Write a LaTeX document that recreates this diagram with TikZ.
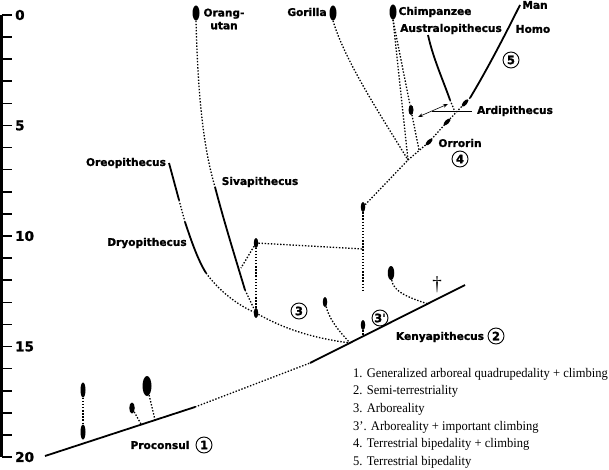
\documentclass[tikz,border=0pt]{standalone}
\usepackage{fontspec}
\setmainfont{Liberation Serif}[FakeStretch=0.95]
\newfontfamily\labfont{DejaVu Sans}[BoldFeatures={FakeBold=1.2}]
\usetikzlibrary{shapes.geometric,arrows.meta}
\tikzset{
  lin/.style={line width=1.8pt},
  dots/.style={line width=1.3pt, dash pattern=on 1.4pt off 1.7pt},
  fos/.style={ellipse, fill=black, inner sep=0pt},
  lab/.style={font=\labfont\bfseries\fontsize{10.6}{12.8}\selectfont, inner sep=0pt},
  num/.style={circle, draw, line width=0.9pt, inner sep=0pt, minimum size=16pt, font=\labfont\bfseries\fontsize{11.5}{12}\selectfont},
  axl/.style={font=\labfont\bfseries\fontsize{13.5}{15}\selectfont, anchor=west, inner sep=0pt},
  legend/.style={font=\fontsize{13.2}{17.6}\selectfont, align=left, anchor=north west, inner sep=0pt},
}
\begin{document}
\begin{tikzpicture}[x=1pt,y=-1pt]
\useasboundingbox (0,0) rectangle (609,470);
% axis
\draw[line width=2.6pt] (1.5,15) -- (1.5,457);
\foreach \i in {0,...,20} {\draw[line width=1.6pt] (1.5,{15+22.1*\i}) -- (12,{15+22.1*\i});}
\foreach \i in {0,5,10,15,20} {\node[axl] (ax\i) at (15,{15+22.1*\i}) {\i};}

% fossils
\node[fos, minimum width=7pt, minimum height=15pt] (orang) at (196,13) {};
\node[fos, minimum width=7pt, minimum height=15pt] (gorilla) at (333,13) {};
\node[fos, minimum width=7pt, minimum height=15pt] (chimp) at (393,12) {};
\node[fos, minimum width=5pt, minimum height=10pt] (H) at (411,110) {};
\node[fos, minimum width=4.5pt, minimum height=10pt] (F) at (363,207) {};
\node[fos, minimum width=4.5pt, minimum height=10pt] (B) at (256,243) {};
\node[fos, minimum width=4.5pt, minimum height=10pt] (A) at (256,313) {};
\node[fos, minimum width=4.5pt, minimum height=10pt] (C) at (325,302) {};
\node[fos, minimum width=4.5pt, minimum height=10pt] (D) at (363,325) {};
\node[fos, minimum width=6.5pt, minimum height=14pt] (E) at (391,273) {};
\node[fos, minimum width=4pt, minimum height=9pt, rotate=-45] (hf1) at (429,142) {};
\node[fos, minimum width=4pt, minimum height=9pt, rotate=-45] (hf2) at (447,122) {};
\node[fos, minimum width=4pt, minimum height=9pt, rotate=-40] (hf3) at (465,103) {};
\node[fos, minimum width=5pt, minimum height=15pt] (P1) at (83,390) {};
\node[fos, minimum width=5pt, minimum height=15pt] (P2) at (83,432) {};
\node[fos, minimum width=5.5pt, minimum height=11pt] (P3) at (132,408) {};
\node[fos, minimum width=9pt, minimum height=20pt] (P4) at (147,386) {};

% coordinates
\coordinate (pcStart) at (45,456);
\coordinate (pcEnd) at (195,407);
\coordinate (kpStart) at (310,363);
\coordinate (kpEnd) at (465,285);
\coordinate (J) at (350,343);
\coordinate (Dbase) at (363,337);
\coordinate (Ebase) at (428,304);
\coordinate (P3base) at (141,424);
\coordinate (P4base) at (155,420);
\coordinate (sivTop) at (215,187);
\coordinate (sivBot) at (245,290);
\coordinate (oreTop) at (169,163);
\coordinate (oreBot) at (179,200);
\coordinate (dryTop) at (185,222);
\coordinate (dryBot) at (206,273);
\coordinate (Bleft) at (241,268);
\coordinate (K) at (363,249);
\coordinate (Fbot) at (363,292);
\coordinate (G) at (408,160);
\coordinate (Hj) at (419,150);
\coordinate (Hm) at (470,98);
\coordinate (manEnd) at (520,5);
\coordinate (auTop) at (428,35);
\coordinate (auBot) at (450,100);
\coordinate (auJ) at (455,112);
\coordinate (ardL) at (432,111);
\coordinate (ardR) at (472,111);
\coordinate (arrA) at (418,117);
\coordinate (arrB) at (448,104);

% base lineages
\draw[lin] (pcStart) -- (pcEnd);
\draw[dots] (pcEnd) -- (kpStart);
\draw[lin] (kpStart) -- (kpEnd);
\draw[dots] (P1) -- (P2);
\draw[dots] (P3) -- (P3base);
\draw[dots] (P4) -- (P4base);

% orangutan / sivapithecus
\draw[dots] (orang.south) .. controls (198,100) and (204,150) .. (sivTop);
\draw[lin] (sivTop) .. controls (225,225) and (236,260) .. (sivBot);
\draw[dots] (sivBot) -- (A);
% oreopithecus / dryopithecus
\draw[lin] (oreTop) -- (oreBot);
\draw[dots] (oreBot) -- (dryTop);
\draw[lin] (dryTop) .. controls (192,243) and (198,260) .. (dryBot);
\draw[dots] (dryBot) .. controls (220,292) and (238,305) .. (A);

\draw[dots] (A) -- (B);
\draw[dots] (B) -- (Bleft);
\draw[dots] (B) -- (K);
\draw[dots] (F) -- (Fbot);
\draw[dots] (A) .. controls (290,332) and (320,339) .. (J);
\draw[dots] (C) .. controls (330,322) and (342,334) .. (J);
\draw[dots] (D) -- (Dbase);
\draw[dots] (E) .. controls (393,292) and (410,298) .. (Ebase);

% great apes / hominins
\draw[dots] (F) -- (G);
\draw[dots] (gorilla.south) .. controls (345,62) and (385,122) .. (G);
\draw[dots] (chimp.south) -- (G);
\draw[dots] (chimp.south) -- (H);
\draw[dots] (H) -- (Hj);
\draw[dots] (G) -- (hf1.center) -- (hf2.center) -- (hf3.center) -- (Hm);
\draw[lin] (Hm) .. controls (488,68) and (505,35) .. (manEnd);
\draw[lin] (auTop) .. controls (433,58) and (443,80) .. (auBot);
\draw[dots] (auBot) -- (auJ);
\draw[line width=0.9pt] (ardL) -- (ardR);
\draw[line width=0.6pt, {Stealth[length=5pt,width=3.5pt]}-{Stealth[length=5pt,width=3.5pt]}] (arrA) -- (arrB);

% labels
\node[lab, align=center] (Lorang) at (224,19) {Orang-\\utan};
\node[lab] (Lgorilla) at (307,12) {Gorilla};
\node[lab] (Lchimp) at (435,12) {Chimpanzee};
\node[lab] (Lman) at (535,5) {Man};
\node[lab] (Laus) at (451,29) {Australopithecus};
\node[lab] (Lhomo) at (533,29) {Homo};
\node[lab] (Lardi) at (515,111) {Ardipithecus};
\node[lab] (Lorr) at (460,143) {Orrorin};
\node[lab] (Lore) at (126,163) {Oreopithecus};
\node[lab] (Lsiva) at (260,182) {Sivapithecus};
\node[lab] (Ldryo) at (147,243) {Dryopithecus};
\node[lab] (Lkenya) at (440,337) {Kenyapithecus};
\node[lab] (Lpro) at (160,445) {Proconsul};
\node[num] (n1) at (204,445) {1};
\node[num] (n2) at (496,336) {2};
\node[num] (n3) at (299,311) {3};
\node[num] (n3p) at (380,318) {3'};
\node[num] (n4) at (460,159) {4};
\node[num] (n5) at (511,60) {5};
\node[font=\fontsize{20}{20}\selectfont, inner sep=0pt] (dag) at (437,285) {\textdagger};

\node[legend] (leg) at (353,368) {1. Generalized arboreal quadrupedality + climbing\\
2. Semi-terrestriality\\
3. Arboreality\\
3'. Arboreality + important climbing\\
4. Terrestrial bipedality + climbing\\
5. Terrestrial bipedality};
\end{tikzpicture}
\end{document}
